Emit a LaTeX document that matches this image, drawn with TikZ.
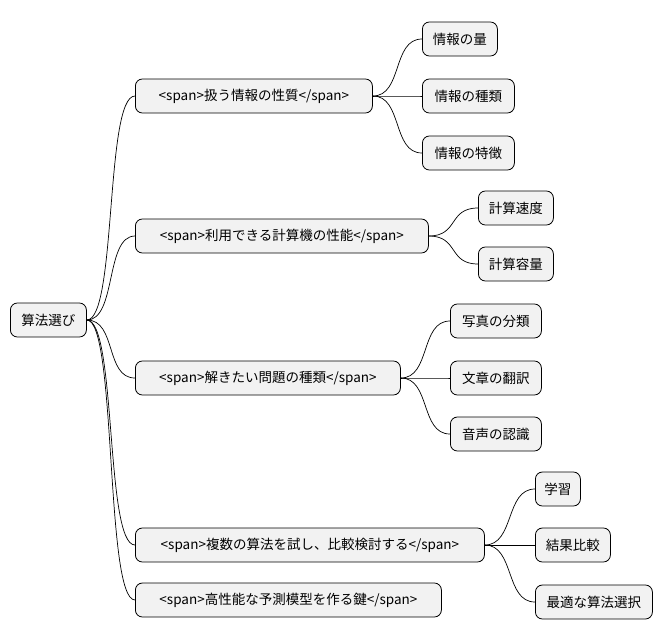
\documentclass[tikz,border=0pt]{standalone}
\usepackage{fontspec}
\setmainfont{Noto Sans CJK JP}
\begin{document}
\begin{tikzpicture}[x=1pt,y=-1pt,
    box/.style={draw, rounded corners=7pt, fill=gray!10, line width=0.8pt,
      minimum height=34pt, inner xsep=9pt, anchor=west, font=\fontsize{13.5}{15}\selectfont},
    link/.style={line width=0.7pt}]
  \useasboundingbox (0,0) rectangle (663,640);

  \node[box, minimum width=76pt] (root) at (10,320) {算法選び};

  \node[box, minimum width=237pt] (prop) at (135,96) {<span>扱う情報の性質</span>};
  \node[box, minimum width=293pt] (perf) at (135,236) {<span>利用できる計算機の性能</span>};
  \node[box, minimum width=265pt] (kind) at (135,378) {<span>解きたい問題の種類</span>};
  \node[box, minimum width=349pt] (cmp) at (135,545) {<span>複数の算法を試し、比較検討する</span>};
  \node[box, minimum width=306pt] (key) at (135,600) {<span>高性能な予測模型を作る鍵</span>};

  \node[box, minimum width=75pt] (amt) at (422,39) {情報の量};
  \node[box, minimum width=92pt] (typ) at (422,96) {情報の種類};
  \node[box, minimum width=92pt] (feat) at (422,153) {情報の特徴};
  \node[box, minimum width=75pt] (speed) at (478,208) {計算速度};
  \node[box, minimum width=75pt] (cap) at (478,264) {計算容量};
  \node[box, minimum width=91pt] (photo) at (450,321) {写真の分類};
  \node[box, minimum width=91pt] (text) at (450,378) {文章の翻訳};
  \node[box, minimum width=91pt] (voice) at (450,434) {音声の認識};
  \node[box, minimum width=45pt] (learn) at (535,489) {学習};
  \node[box, minimum width=75pt] (res) at (535,545) {結果比較};
  \node[box, minimum width=117pt] (best) at (535,602) {最適な算法選択};

  % connectors
  \foreach \c in {prop,perf,kind,cmp,key}
    \draw[link] (root.east) .. controls +(30,0) and +(-30,0) .. (\c.west);
  \foreach \c in {amt,typ,feat}
    \draw[link] (prop.east) .. controls +(30,0) and +(-30,0) .. (\c.west);
  \foreach \c in {speed,cap}
    \draw[link] (perf.east) .. controls +(30,0) and +(-30,0) .. (\c.west);
  \foreach \c in {photo,text,voice}
    \draw[link] (kind.east) .. controls +(30,0) and +(-30,0) .. (\c.west);
  \foreach \c in {learn,res,best}
    \draw[link] (cmp.east) .. controls +(30,0) and +(-30,0) .. (\c.west);
\end{tikzpicture}
\end{document}
